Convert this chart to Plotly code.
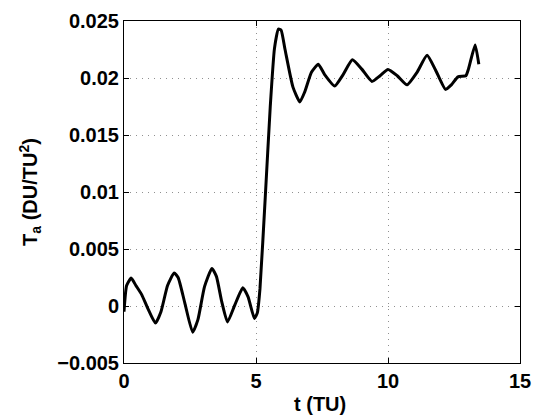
import plotly.graph_objects as go

t = [0, 0.1, 0.27, 0.45, 0.67, 0.9, 1.19, 1.4, 1.65, 1.9, 2.05, 2.3, 2.6, 2.8, 3.05,
     3.33, 3.5, 3.7, 3.92, 4.2, 4.5, 4.7, 4.94, 5.05, 5.15, 5.35, 5.54, 5.7, 5.85,
     5.95, 6.1, 6.4, 6.66, 6.85, 7.1, 7.36, 7.6, 7.98, 8.3, 8.65, 9.0, 9.39, 9.7,
     10.0, 10.35, 10.72, 11.1, 11.48, 11.8, 12.18, 12.4, 12.65, 12.95, 13.05, 13.3, 13.44]
ta = [-0.0005, 0.0018, 0.00245, 0.0018, 0.0010, -0.0002, -0.0015, -0.0005, 0.0018,
      0.0029, 0.0025, 0.0003, -0.0023, -0.0012, 0.0017, 0.0033, 0.0026, 0.0004,
      -0.0014, 0.0001, 0.0016, 0.0008, -0.0011, -0.0006, 0.0015, 0.0095, 0.0175,
      0.0226, 0.0243, 0.0242, 0.0225, 0.0192, 0.0179, 0.0188, 0.0205, 0.0212, 0.0203,
      0.0193, 0.0203, 0.0216, 0.0208, 0.0197, 0.0202, 0.02075, 0.0202, 0.0194, 0.0205,
      0.0220, 0.0207, 0.0190, 0.0194, 0.0201, 0.0202, 0.0208, 0.0229, 0.0212]

x_ticks = [0, 5, 10, 15]
y_ticks = [-0.005, 0, 0.005, 0.01, 0.015, 0.02, 0.025]
y_tick_text = ["\u22120.005", "0", "0.005", "0.01", "0.015", "0.02", "0.025"]
x_title = "<b>t (TU)</b>"
y_title = "<b>T<sub>a</sub> (DU/TU<sup>2</sup>)</b>"

FONT = "Liberation Sans, Arial, Helvetica, sans-serif"
W, H = 541, 419
ML, MR, MT, MB = 124, 11, 10, 56
PW, PH = W - ML - MR, H - MT - MB

fig = go.Figure()
fig.add_trace(go.Scatter(x=t, y=ta, mode="lines",
                         line=dict(color="black", width=3, shape="spline", smoothing=0.5),
                         showlegend=False, hoverinfo="skip"))

axis_common = dict(
    showline=True, linecolor="black", linewidth=1, mirror="ticks",
    ticks="inside", ticklen=5, tickcolor="black",
    showgrid=True, gridcolor="#909090", griddash="1px,5px", gridwidth=1,
    zeroline=False, ticklabeloverflow="allow",
    tickfont=dict(family=FONT, size=20, color="black", weight="bold"),
)

fig.update_layout(
    width=W, height=H,
    margin=dict(l=ML, r=MR, t=MT, b=MB),
    paper_bgcolor="white", plot_bgcolor="white",
    font=dict(family=FONT, color="black"),
    xaxis=dict(range=[0, 15], tickvals=x_ticks, ticktext=[str(v) for v in x_ticks],
               **axis_common),
    yaxis=dict(range=[-0.005, 0.025], tickvals=y_ticks, ticktext=y_tick_text,
               **axis_common),
    annotations=[
        dict(text=x_title, xref="paper", yref="paper",
             x=(325 - ML) / PW, y=(H - MB - 405) / PH,
             xanchor="center", yanchor="middle", showarrow=False,
             font=dict(family=FONT, size=20, color="black")),
        dict(text=y_title, xref="paper", yref="paper",
             x=(28 - ML) / PW, y=(H - MB - 186) / PH,
             xanchor="center", yanchor="middle", showarrow=False, textangle=-90,
             font=dict(family=FONT, size=20, color="black")),
    ],
)

fig.write_html("out.html")
